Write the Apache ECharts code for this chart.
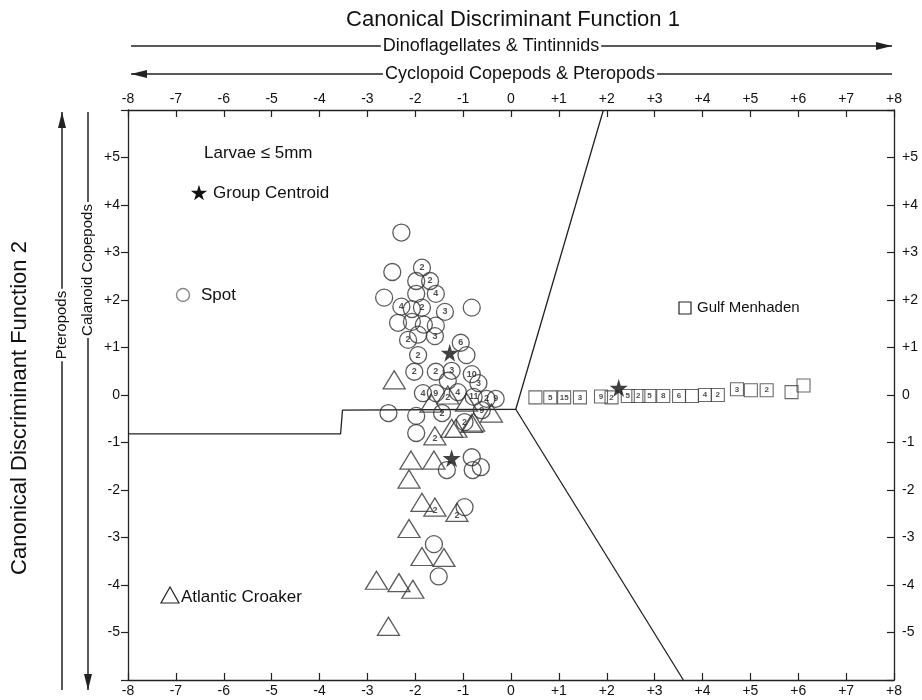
<!DOCTYPE html>
<html>
<head>
<meta charset="utf-8">
<script src="https://cdn.jsdelivr.net/npm/echarts@6/dist/echarts.min.js"></script>
<style>html,body{margin:0;padding:0;background:#fff}#c{width:922px;height:700px}</style>
</head>
<body>
<div id="c"></div>
<script>
// ---- data: [function 1, function 2, count label (0 = none)] ----
const spot = [
  [-2.29, 3.42, 0], [-2.48, 2.59, 0], [-1.86, 2.68, 2], [-1.69, 2.40, 2], [-1.98, 2.40, 0],
  [-1.57, 2.13, 4], [-1.98, 2.13, 0], [-2.65, 2.05, 0], [-2.29, 1.86, 4], [-2.07, 1.81, 0],
  [-1.86, 1.84, 2], [-1.38, 1.75, 3], [-0.82, 1.84, 0], [-2.36, 1.52, 0], [-2.07, 1.54, 0],
  [-1.82, 1.48, 0], [-1.57, 1.46, 0], [-1.59, 1.24, 3], [-1.94, 1.27, 0], [-2.15, 1.16, 2],
  [-1.05, 1.10, 6], [-0.93, 0.84, 0], [-1.94, 0.84, 2], [-2.02, 0.49, 2], [-1.57, 0.49, 2],
  [-1.24, 0.51, 3], [-0.82, 0.44, 10], [-0.68, 0.25, 3], [-1.32, 0.30, 0], [-1.84, 0.04, 4],
  [-1.57, 0.04, 9], [-1.11, 0.06, 4], [-0.78, -0.04, 11], [-0.51, -0.08, 2], [-0.32, -0.08, 9],
  [-2.56, -0.38, 0], [-1.44, -0.38, 2], [-0.61, -0.32, 9], [-0.97, -0.57, 2], [-1.98, -0.44, 0],
  [-1.98, -0.80, 0], [-1.34, -1.58, 0], [-0.82, -1.31, 0], [-0.63, -1.52, 0], [-0.80, -1.58, 0],
  [-0.97, -2.36, 0], [-1.61, -3.14, 0], [-1.51, -3.82, 0]
];
const croaker = [
  [-2.44, 0.32, 0], [-1.67, -0.17, 0], [-1.32, 0.00, 2], [-0.93, -0.15, 0], [-0.78, -0.57, 0],
  [-0.41, -0.38, 0], [-1.15, -0.70, 0], [-1.59, -0.86, 2], [-1.24, -0.70, 0], [-0.82, -0.60, 0],
  [-2.09, -1.37, 0], [-1.61, -1.37, 0], [-2.13, -1.77, 0], [-1.86, -2.26, 0], [-1.59, -2.36, 2],
  [-1.13, -2.47, 2], [-2.13, -2.81, 0], [-1.86, -3.40, 0], [-1.40, -3.42, 0], [-2.81, -3.90, 0],
  [-2.34, -3.95, 0], [-2.05, -4.09, 0], [-2.56, -4.87, 0]
];
const menhaden = [
  [0.51, -0.05, 0], [0.82, -0.05, 5], [1.11, -0.05, 15], [1.44, -0.05, 3], [1.88, -0.03, 9],
  [2.10, -0.05, 2], [2.44, -0.02, 5], [2.66, -0.02, 2], [2.89, -0.02, 5], [3.18, -0.02, 8],
  [3.51, -0.02, 6], [3.78, -0.02, 0], [4.05, 0.00, 4], [4.32, 0.00, 2], [4.72, 0.12, 3],
  [5.01, 0.10, 0], [5.34, 0.10, 2], [5.86, 0.06, 0], [6.11, 0.20, 0]
];
const centroids = [[-1.28, 0.89], [-1.24, -1.33], [2.25, 0.15]];
const boundaryLeft = [[-8, -0.82], [-3.56, -0.82], [-3.52, -0.32], [0.1, -0.30], [1.93, 6]];
const boundaryLower = [[0.1, -0.30], [3.6, -6]];
const xTicks = [-8, 8, 1];
const yTicks = [-6, 6, 1];

const FONT = '"Liberation Sans", Arial, sans-serif';
const fmt = v => (v > 0 ? '+' + v : String(v));
const STAR = 'path://M50,0 L61,35 L98,35 L68,57 L79,91 L50,70 L21,91 L32,57 L2,35 L39,35 Z';
const ink = '#222';

const chart = echarts.init(document.getElementById('c'), null, {renderer: 'canvas'});

const numLabel = {
  show: true, position: 'inside', fontSize: 9, fontWeight: 'bold', color: '#222', fontFamily: FONT,
  formatter: p => (p.value[2] ? String(p.value[2]) : '')
};

const axisX = (pos) => ({
  type: 'value', position: pos, min: xTicks[0], max: xTicks[1], interval: xTicks[2],
  axisLine: {show: true, onZero: false, lineStyle: {color: ink, width: 1.3}},
  axisTick: {show: true, inside: true, length: 7, lineStyle: {color: ink, width: 1.2}},
  axisLabel: {show: true, formatter: fmt, color: '#111', fontSize: 14, fontFamily: FONT, margin: 4},
  splitLine: {show: false}
});
const axisY = (pos, inside) => ({
  type: 'value', position: pos, min: yTicks[0], max: yTicks[1], interval: yTicks[2],
  axisLine: {show: true, onZero: false, lineStyle: {color: ink, width: 1.3}},
  axisTick: {show: true, inside: inside, length: 7, lineStyle: {color: ink, width: 1.2}},
  axisLabel: {show: true, color: '#111', fontSize: 14, fontFamily: FONT, margin: inside ? 8 : 8,
    formatter: v => (Math.abs(v) === 6 ? '' : fmt(v))},
  splitLine: {show: false}
});

function arrowH(y, x1, x2, headRight, text, cx, fs) {
  const els = [{type: 'line', shape: {x1, y1: y, x2, y2: y}, style: {stroke: ink, lineWidth: 1.5}}];
  const hx = headRight ? x2 : x1, d = headRight ? -1 : 1;
  els.push({type: 'polygon', shape: {points: [[hx, y], [hx + d * 16, y - 4], [hx + d * 16, y + 4]]}, style: {fill: ink}});
  els.push({type: 'text', x: cx, y: y, style: {text, font: fs + 'px ' + FONT, fill: '#111', align: 'center',
    verticalAlign: 'middle', backgroundColor: '#fff', padding: [0, 2]}});
  return els;
}
function arrowV(x, y1, y2, headUp, text, cy, fs) {
  const els = [{type: 'line', shape: {x1: x, y1, x2: x, y2}, style: {stroke: ink, lineWidth: 1.5}}];
  const hy = headUp ? y1 : y2, d = headUp ? 1 : -1;
  els.push({type: 'polygon', shape: {points: [[x, hy], [x - 4, hy + d * 16], [x + 4, hy + d * 16]]}, style: {fill: ink}});
  els.push({type: 'text', x: x, y: cy, rotation: Math.PI / 2, style: {text, font: fs + 'px ' + FONT, fill: '#111',
    align: 'center', verticalAlign: 'middle', backgroundColor: '#fff', padding: [0, 2]}});
  return els;
}
function starPoints(cx, cy, size) {
  const raw = [[50,0],[61,35],[98,35],[68,57],[79,91],[50,70],[21,91],[32,57],[2,35],[39,35]];
  return raw.map(p => [cx + (p[0] - 50) * size / 100, cy + (p[1] - 48) * size / 100]);
}

const LF = '17px ' + FONT;
const graphics = [
  {type: 'text', x: 513, y: 20, style: {text: 'Canonical Discriminant Function 1', font: '22px ' + FONT, fill: '#111', align: 'center', verticalAlign: 'middle'}},
  {type: 'text', x: 20, y: 408, rotation: Math.PI / 2, style: {text: 'Canonical Discriminant Function 2', font: '22px ' + FONT, fill: '#111', align: 'center', verticalAlign: 'middle'}},
  ...arrowH(46, 131, 892, true, 'Dinoflagellates & Tintinnids', 491, 18),
  ...arrowH(74, 131, 892, false, 'Cyclopoid Copepods & Pteropods', 520, 18),
  ...arrowV(62, 112, 690, true, 'Pteropods', 325, 15),
  ...arrowV(88, 112, 690, false, 'Calanoid Copepods', 270, 15),
  {type: 'text', x: 204, y: 153, style: {text: 'Larvae \u2264 5mm', font: LF, fill: '#111', verticalAlign: 'middle'}},
  {type: 'polygon', shape: {points: starPoints(199, 193, 17)}, style: {fill: '#111'}},
  {type: 'text', x: 213, y: 193, style: {text: 'Group Centroid', font: LF, fill: '#111', verticalAlign: 'middle'}},
  {type: 'circle', shape: {cx: 183, cy: 295, r: 6.5}, style: {fill: 'none', stroke: '#888', lineWidth: 1.4}},
  {type: 'text', x: 201, y: 295, style: {text: 'Spot', font: LF, fill: '#111', verticalAlign: 'middle'}},
  {type: 'rect', shape: {x: 679, y: 302, width: 12, height: 12}, style: {fill: 'none', stroke: '#222', lineWidth: 1.2}},
  {type: 'text', x: 697, y: 308, style: {text: 'Gulf Menhaden', font: '15px ' + FONT, fill: '#111', verticalAlign: 'middle'}},
  {type: 'polygon', shape: {points: [[170, 587], [161, 603], [179, 603]]}, style: {fill: 'none', stroke: '#222', lineWidth: 1.2}},
  {type: 'text', x: 181, y: 597, style: {text: 'Atlantic Croaker', font: LF, fill: '#111', verticalAlign: 'middle'}}
];

chart.setOption({
  animation: false,
  backgroundColor: '#fff',
  grid: {left: 128, right: 28, top: 110, bottom: 20},
  xAxis: [axisX('bottom'), axisX('top')],
  yAxis: [axisY('left', false), axisY('right', true)],
  graphic: graphics,
  series: [
    {type: 'line', data: boundaryLeft, symbol: 'none', lineStyle: {color: ink, width: 1.3}, z: 1},
    {type: 'line', data: boundaryLower, symbol: 'none', lineStyle: {color: ink, width: 1.3}, z: 1},
    {type: 'scatter', name: 'Spot', data: spot, symbol: 'circle', symbolSize: 17,
      itemStyle: {color: 'rgba(255,255,255,0)', borderColor: '#333', borderWidth: 1.3}, label: numLabel, z: 3},
    {type: 'scatter', name: 'Atlantic Croaker', data: croaker, symbol: 'triangle', symbolSize: [22, 18],
      itemStyle: {color: 'rgba(255,255,255,0)', borderColor: '#333', borderWidth: 1.3},
      label: Object.assign({}, numLabel, {offset: [0, 3]}), z: 3},
    {type: 'scatter', name: 'Gulf Menhaden', data: menhaden, symbol: 'rect', symbolSize: 13,
      itemStyle: {color: 'rgba(255,255,255,0)', borderColor: '#444', borderWidth: 1.1},
      label: Object.assign({}, numLabel, {fontSize: 8}), z: 3},
    {type: 'scatter', name: 'Group Centroid', data: centroids, symbol: STAR, symbolSize: 18,
      itemStyle: {color: '#111'}, z: 4}
  ]
});
</script>
</body>
</html>
